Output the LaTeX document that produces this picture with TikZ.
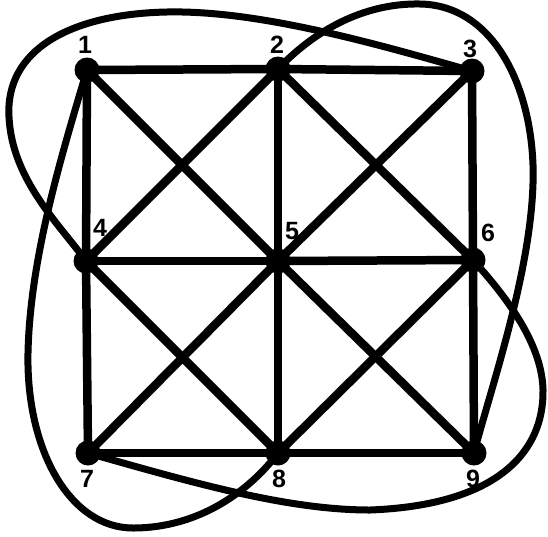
\documentclass[tikz,border=0pt]{standalone}
\usepackage{fontspec}
\setmainfont{Liberation Sans}
\begin{document}
\begin{tikzpicture}[x=1pt,y=-1pt,
  vtx/.style={circle,fill=black,inner sep=0pt,minimum size=25pt},
  lbl/.style={font=\fontsize{25}{25}\selectfont\bfseries,inner sep=0pt},
  edge/.style={line width=8.5pt},
  loopline/.style={line width=7pt}]
\useasboundingbox (0,0) rectangle (548,536);
\node[vtx] (n1) at (87,70) {};
\node[vtx] (n2) at (278,69) {};
\node[vtx] (n3) at (472,71) {};
\node[vtx] (n4) at (86,261) {};
\node[vtx] (n5) at (278,261) {};
\node[vtx] (n6) at (473,260) {};
\node[vtx] (n7) at (88,453) {};
\node[vtx] (n8) at (278,453) {};
\node[vtx] (n9) at (474,453) {};
\node[lbl] (l1) at (85,45) {1};
\node[lbl] (l2) at (277,45) {2};
\node[lbl] (l3) at (470,49) {3};
\node[lbl] (l4) at (100,228) {4};
\node[lbl] (l5) at (292,231) {5};
\node[lbl] (l6) at (488,233) {6};
\node[lbl] (l7) at (87,479) {7};
\node[lbl] (l8) at (279,479) {8};
\node[lbl] (l9) at (473,479) {9};
\foreach \a/\b in {n1/n2,n2/n3,n4/n5,n5/n6,n7/n8,n8/n9,
                   n1/n4,n4/n7,n2/n5,n5/n8,n3/n6,n6/n9,
                   n1/n5,n5/n9,n3/n5,n5/n7,n2/n4,n4/n8,n2/n6,n6/n8}
  \draw[edge] (\a.center) -- (\b.center);
% curve 3 -> 4 over top-left
\draw[loopline] (n3.center) .. controls (380,45) and (260,10) .. (167,12)
  .. controls (70,14) and (5,50) .. (9,117)
  .. controls (12,180) and (60,225) .. (n4.center);
% curve 2 -> 9 over top-right
\draw[loopline] (n2.center) .. controls (320,25) and (370,3) .. (420,4)
  .. controls (490,5) and (530,80) .. (533,165)
  .. controls (536,260) and (490,390) .. (n9.center);
% curve 1 -> 8 under bottom-left
\draw[loopline] (n1.center) .. controls (60,160) and (30,260) .. (28,353)
  .. controls (26,450) and (70,528) .. (133,528)
  .. controls (200,528) and (250,490) .. (n8.center);
% curve 7 -> 6 under bottom-right
\draw[loopline] (n7.center) .. controls (200,485) and (290,510) .. (370,510)
  .. controls (500,505) and (544,450) .. (543,390)
  .. controls (542,340) and (500,290) .. (n6.center);
\end{tikzpicture}
\end{document}
